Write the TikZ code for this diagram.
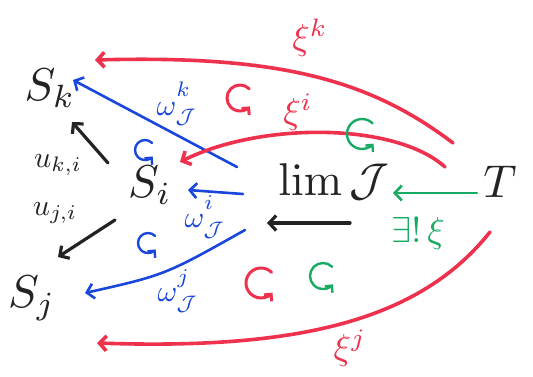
\documentclass[tikz,border=0pt]{standalone}
\usetikzlibrary{arrows.meta,calc}
\definecolor{mred}{RGB}{238,50,78}
\definecolor{mblue}{RGB}{25,70,220}
\definecolor{mgreen}{RGB}{25,170,100}
\definecolor{mblack}{RGB}{35,35,35}
\newcommand{\upsc}[1]{\raisebox{2.5pt}{$\scriptstyle #1$}}
\begin{document}
\begin{tikzpicture}[x=1pt,y=-1pt,
  obj/.style={scale=4.6, text=mblack, inner sep=0pt},
  lab/.style={scale=3.0, inner sep=0pt},
  biglab/.style={scale=3.6, inner sep=0pt},
  tip/.style={-{Straight Barb[length=7pt,width=15pt]}},
  blk/.style={tip, draw=mblack, line width=3.2pt, line cap=round},
  blu/.style={tip, draw=mblue, line width=2.6pt, line cap=round},
  grn/.style={tip, draw=mgreen, line width=2.6pt, line cap=round},
  rd/.style={tip, draw=mred, line width=3.6pt, line cap=round},
  comm/.pic={\draw[line cap=round,-{Straight Barb[length=5pt,width=10pt]}] (-45:#1) arc[start angle=-45, end angle=-320, radius=#1];}
]
\useasboundingbox (0,0) rectangle (533,377);
\fill[white] (0,0) rectangle (533,377);

% objects
\node[obj] (Sk) at (50,88) {$S_k$};
\node[obj] (Si) at (150,185) {$S_i$};
\node[obj] (Sj) at (32,298) {$S_j$};
\node[obj] (lim) at (334,182) {$\lim\mathcal{J}$};
\node[obj] (T) at (500,182) {$T$};

% labels
\node[lab,text=mblack] (uki) at (58,165) {$u_{k,i}$};
\node[lab,text=mblack] (uji) at (55,213) {$u_{j,i}$};
\node[lab,text=mblue] (wk) at (177,104) {$\omega_{\mathcal J}^{\upsc{k}}$};
\node[lab,text=mblue] (wi) at (205,217) {$\omega_{\mathcal J}^{\upsc{i}}$};
\node[lab,text=mblue] (wj) at (178,291) {$\omega_{\mathcal J}^{\upsc{j}}$};
\node[biglab,text=mred] (xk) at (310,38) {$\xi^{k}$};
\node[biglab,text=mred] (xi) at (298,112) {$\xi^{i}$};
\node[biglab,text=mred] (xj) at (350,348) {$\xi^{j}$};
\node[biglab,text=mgreen] (ex) at (418,233) {$\exists!\,\xi$};

% black arrows
\draw[blk] ($(Si)+(-42,-22)$) -- ($(Sk)+(22,34)$);
\draw[blk] ($(Si)+(-35,35)$) -- ($(Sj)+(26,-41)$);
\draw[blk] ($(lim)+(16,41)$) -- ($(Si)+(117,38)$);

% green arrow
\draw[grn] ($(T)+(-23,11)$) -- ($(lim)+(59,11)$);

% blue arrows
\draw[blu] ($(Si)+(87,-18)$) -- ($(Sk)+(23,-8)$);
\draw[blu] ($(Si)+(93,9)$) -- ($(Si)+(38,5)$);
\draw[blu] ($(Si)+(95,45)$) .. controls (165,275) .. ($(Sj)+(53,-5)$);

% red arrows
\draw[rd] ($(T)+(-47,-39)$) .. controls (370,80) and (280,55) .. ($(Sk)+(45,-28)$);
\draw[rd] ($(T)+(-55,-15)$) .. controls (395,122) and (260,122) .. ($(Si)+(30,-23)$);
\draw[rd] ($(T)+(-10,50)$) .. controls (420,320) and (300,350) .. ($(Sj)+(65,45)$);

% commutation marks
\pic[mred, line width=3pt] at (240,98) {comm=13};
\pic[mred, line width=3pt] at (261,283) {comm=15};
\pic[mblue, line width=2.4pt] at (145,150) {comm=10};
\pic[mblue, line width=2.4pt] at (148,243) {comm=10};
\pic[mgreen, line width=2.4pt] at (362,134) {comm=15};
\pic[mgreen, line width=2.4pt] at (323,276) {comm=13};
\end{tikzpicture}
\end{document}
